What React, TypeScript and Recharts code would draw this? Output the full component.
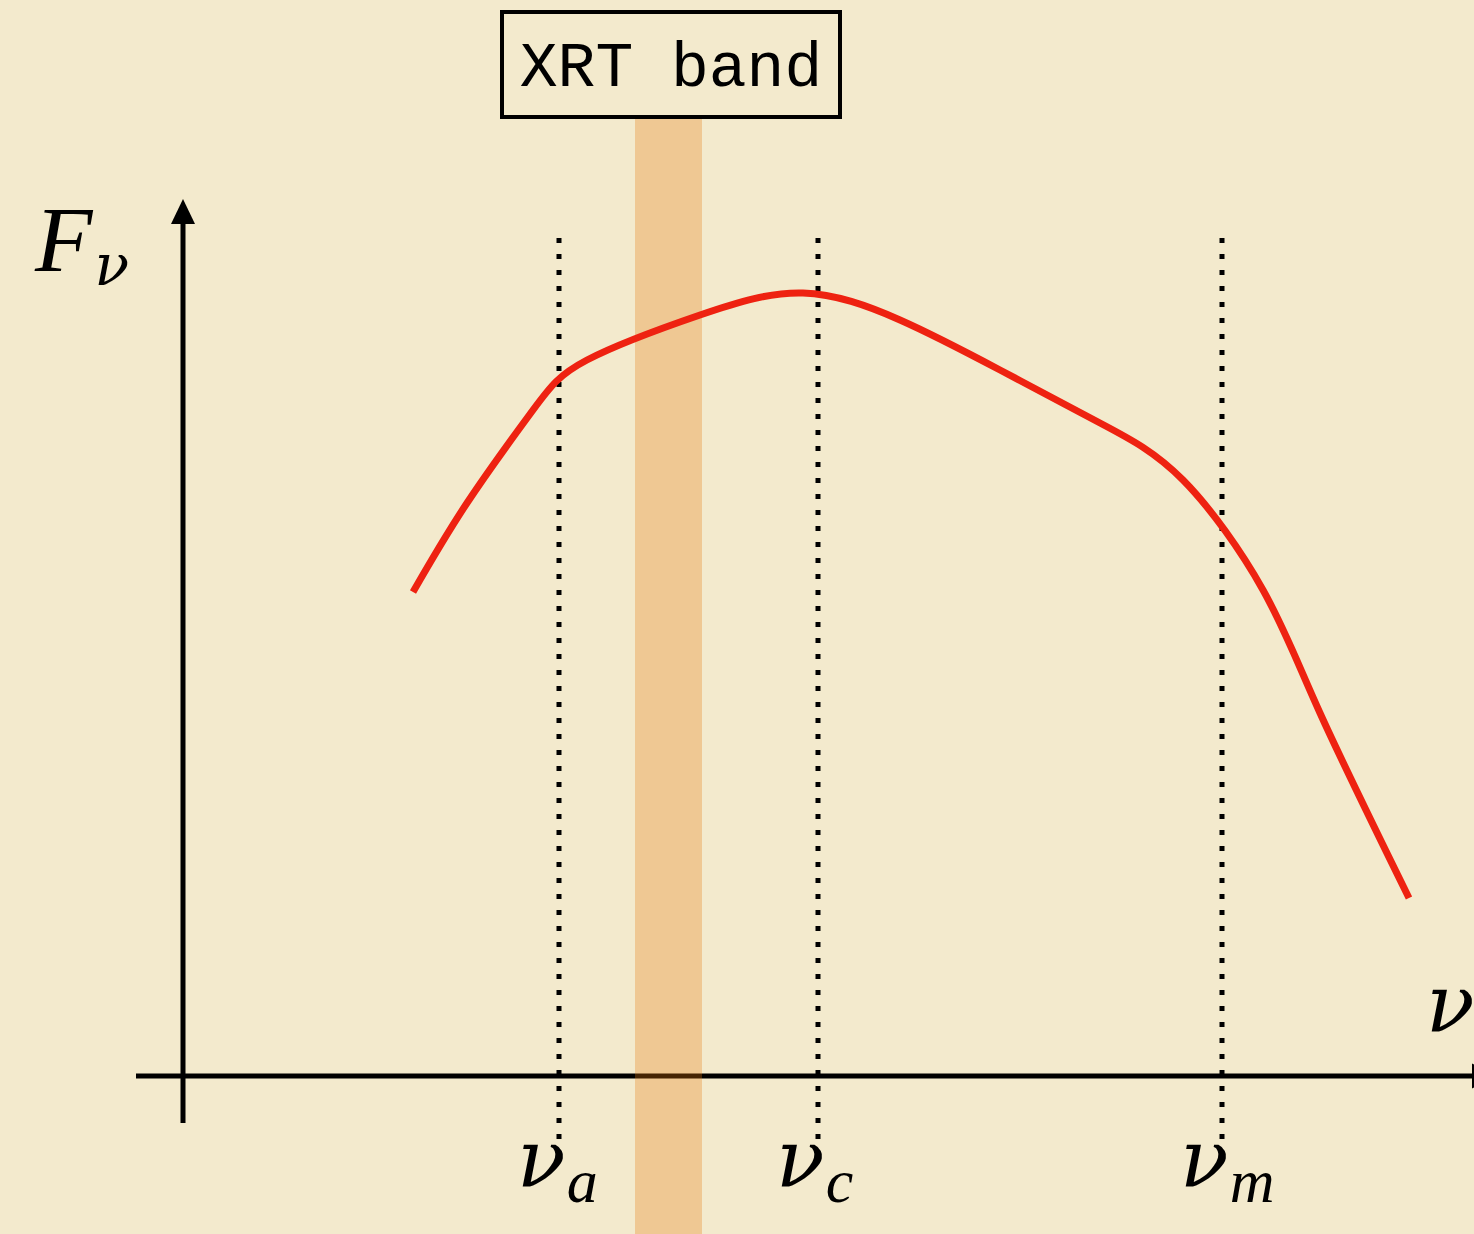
import React from 'react';
import {
  ComposedChart,
  Line,
  XAxis,
  YAxis,
  ReferenceLine,
  ReferenceArea,
  ReferenceDot,
} from 'recharts';

// log-frequency (x) and flux (y) of the broken power-law spectrum, arbitrary units
const curveNu = [2.3, 2.84, 3.5, 4.04, 5.17, 6.2, 7.17, 8.17, 9.17, 10.0, 10.8, 11.37, 12.26];
const curveFlux = [4.84, 5.73, 6.66, 7.16, 7.61, 7.83, 7.56, 7.06, 6.53, 5.96, 4.86, 3.63, 1.78];

// break frequencies
const breakSub = ['a', 'c', 'm'];
const breakNu = [3.76, 6.35, 10.39];

// XRT band edges
const bandNu = [4.52, 5.19];
const bandLabel = 'XRT band';

const xDomain: [number, number] = [-1.83, 12.91];
const yDomain: [number, number] = [-1.58, 10.76];

const data = curveNu.map((x, i) => ({ x, y: curveFlux[i] }));

const BG = '#F3EACD';
const INK = '#000';
const RED = '#EE2211';
const mathFont = '"Liberation Serif", "Times New Roman", serif';
const greekFont = '"DejaVu Serif", serif';

const ArrowUp = ({ cx, cy }: any) => (
  <polygon points={`${cx},${cy} ${cx - 12},${cy + 25} ${cx + 12},${cy + 25}`} fill={INK} />
);

const ArrowRight = ({ cx, cy }: any) => (
  <polygon points={`${cx},${cy - 12.5} ${cx + 25},${cy} ${cx},${cy + 12.5}`} fill={INK} />
);

const BreakLabel = ({ cx, cy, sub }: any) => (
  <text x={cx - 42} y={cy} fontStyle="italic" fill={INK}>
    <tspan fontFamily={greekFont} fontSize={80}>ν</tspan>
    <tspan fontFamily={mathFont} fontSize={62} dy={15} dx={1}>
      {sub}
    </tspan>
  </text>
);

const FluxLabel = ({ cx, cy }: any) => (
  <text x={cx} y={cy} fontStyle="italic" fill={INK}>
    <tspan fontFamily={mathFont} fontSize={94}>F</tspan>
    <tspan fontFamily={greekFont} fontSize={57} dy={14} dx={2}>
      ν
    </tspan>
  </text>
);

const NuLabel = ({ cx, cy }: any) => (
  <text x={cx} y={cy} fontFamily={greekFont} fontStyle="italic" fontSize={80} fill={INK}>
    ν
  </text>
);

const BandBoxLabel = ({ viewBox }: any) => {
  const { x, y, width, height } = viewBox;
  return (
    <text
      x={x + width / 2}
      y={y + height / 2 + 21}
      textAnchor="middle"
      fontFamily='"Liberation Mono", "Courier New", monospace'
      fontSize={63}
      fill={INK}
    >
      {bandLabel}
    </text>
  );
};

export default function App() {
  return (
    <div
      style={{
        position: 'absolute',
        left: 0,
        top: 0,
        width: 1474,
        height: 1234,
        overflow: 'hidden',
        background: BG,
      }}
    >
      <ComposedChart width={1474} height={1234} data={data} margin={{ top: 0, right: 0, bottom: 0, left: 0 }}>
        <XAxis type="number" dataKey="x" domain={xDomain} hide allowDataOverflow />
        <YAxis type="number" domain={yDomain} hide allowDataOverflow />

        {/* axes */}
        <ReferenceLine
          segment={[{ x: -0.47, y: 0 }, { x: 12.89, y: 0 }]}
          stroke={INK}
          strokeWidth={5}
          ifOverflow="visible"
          zIndex={100}
        />
        <ReferenceLine
          segment={[{ x: 0, y: -0.47 }, { x: 0, y: 8.6 }]}
          stroke={INK}
          strokeWidth={5}
          ifOverflow="visible"
          zIndex={100}
        />
        <ReferenceDot x={0} y={8.77} shape={<ArrowUp />} ifOverflow="visible" zIndex={100} />
        <ReferenceDot x={12.89} y={0} shape={<ArrowRight />} ifOverflow="visible" zIndex={100} />

        {/* break frequencies */}
        {breakNu.map((nu, i) => (
          <ReferenceLine
            key={`brk-${i}`}
            segment={[{ x: nu, y: 8.38 }, { x: nu, y: -0.63 }]}
            stroke={INK}
            strokeWidth={5}
            strokeDasharray="5 11"
            ifOverflow="visible"
            zIndex={100}
          />
        ))}

        {/* XRT band */}
        <ReferenceArea
          x1={bandNu[0]}
          x2={bandNu[1]}
          y1={yDomain[0]}
          y2={9.58}
          fill="#E9790C"
          fillOpacity={0.3}
          stroke="none"
          ifOverflow="visible"
          zIndex={200}
        />

        <Line
          dataKey="y"
          type="natural"
          stroke={RED}
          strokeWidth={7}
          dot={false}
          activeDot={false}
          isAnimationActive={false}
          zIndex={300}
        />

        {/* labels */}
        <ReferenceArea
          x1={3.19}
          x2={6.57}
          y1={9.59}
          y2={10.64}
          fill="none"
          stroke={INK}
          strokeWidth={4}
          fillOpacity={0}
          ifOverflow="visible"
          label={<BandBoxLabel />}
          zIndex={400}
        />
        {breakNu.map((nu, i) => (
          <ReferenceDot
            key={`lbl-${i}`}
            x={nu}
            y={-1.11}
            shape={<BreakLabel sub={breakSub[i]} />}
            ifOverflow="visible"
            zIndex={400}
          />
        ))}
        <ReferenceDot x={-1.48} y={8.05} shape={<FluxLabel />} ifOverflow="visible" zIndex={400} />
        <ReferenceDot x={12.43} y={0.44} shape={<NuLabel />} ifOverflow="visible" zIndex={400} />
      </ComposedChart>
    </div>
  );
}
